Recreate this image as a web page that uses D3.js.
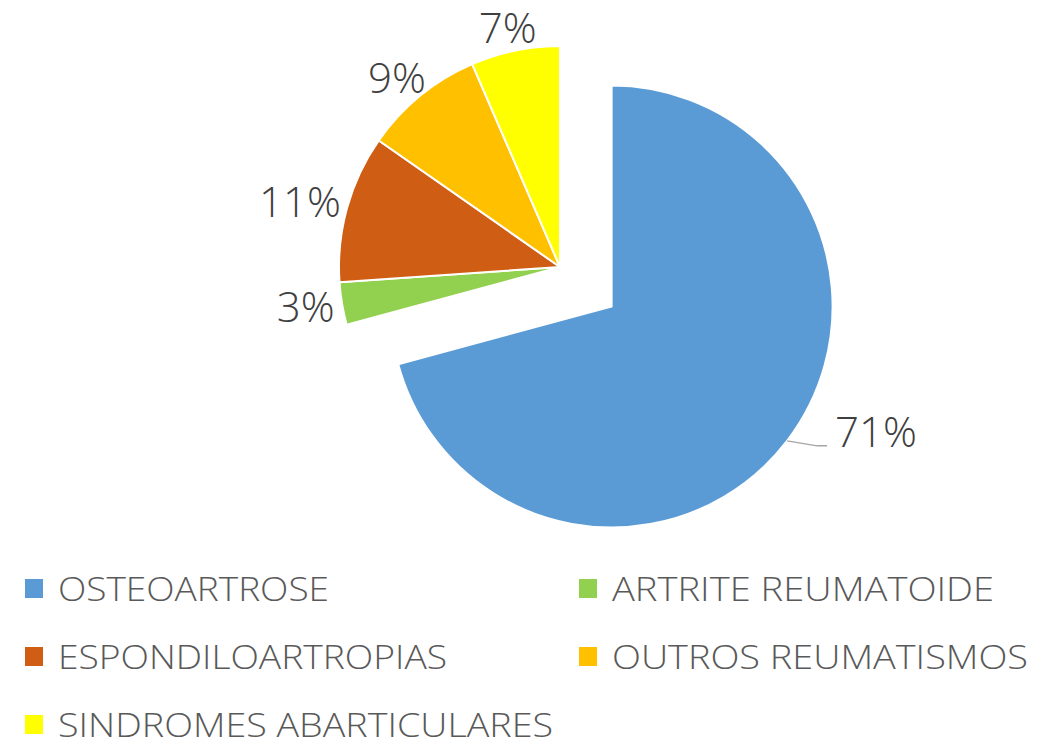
<!DOCTYPE html>
<html>
<head>
<meta charset="utf-8">
<script src="https://cdn.jsdelivr.net/npm/d3@7"></script>
<style>
    body { margin: 0; background: #fff; }
    text { font-family: "Open Sans", "DejaVu Sans", sans-serif; font-weight: 300; }
</style>
</head>
<body>
<script>
// categories and their share (%)
const categories = ["OSTEOARTROSE", "ARTRITE REUMATOIDE", "ESPONDILOARTROPIAS", "OUTROS REUMATISMOS", "SINDROMES ABARTICULARES"];
const values = [70.8, 3.1, 10.8, 8.8, 6.5];
const colors = ["#5B9BD5", "#92D050", "#CF5E14", "#FFC000", "#FFFF00"];
// legend text widths in the reference
const legendWidths = [271, 382, 389, 416, 495];

const width = 1059, height = 744;
const cx = 560, cy = 267, radius = 221;
const explode = 65;

const svg = d3.select("body").append("svg")
    .attr("width", width)
    .attr("height", height);

const data = categories.map((c, i) => ({name: c, value: values[i], color: colors[i]}));

const pie = d3.pie().sort(null).value(d => d.value);
const arcs = pie(data);

const arc = d3.arc().innerRadius(0).outerRadius(radius);

// offset of a slice along its middle angle
function offset(d, dist) {
    const a = (d.startAngle + d.endAngle) / 2;
    return [Math.sin(a) * dist, -Math.cos(a) * dist];
}

const g = svg.append("g").attr("transform", `translate(${cx},${cy})`);

g.selectAll("path")
    .data(arcs)
    .enter()
    .append("path")
    .attr("d", arc)
    .attr("transform", (d, i) => {
        const o = i === 0 ? offset(d, explode) : [0, 0];
        return `translate(${o[0]},${o[1]})`;
    })
    .attr("fill", d => d.data.color)
    .attr("stroke", "#fff")
    .attr("stroke-width", 2);

const fmt = d3.format(".0f");
const capH = 30;

// labels for the small slices, outside end: box pushed out from the rim
const lbl = g.selectAll("text.lbl")
    .data(arcs.slice(1))
    .enter()
    .append("text")
    .attr("class", "lbl")
    .attr("text-anchor", "middle")
    .attr("font-size", 42)
    .attr("fill", "#404040")
    .text(d => fmt(d.data.value) + "%");

lbl.each(function (d) {
    const w = this.getComputedTextLength();
    const a = (d.startAngle + d.endAngle) / 2;
    const p = offset(d, radius + 8);
    const x = p[0] + Math.sin(a) * w / 2;
    const y = p[1] - Math.cos(a) * capH / 2;
    d3.select(this).attr("x", x).attr("y", y + capH / 2);
});

// big slice label with leader line
const big = arcs[0];
const bo = offset(big, explode);
const edge = offset(big, radius);
const ex = edge[0] + bo[0], ey = edge[1] + bo[1];

g.append("path")
    .attr("d", `M${ex},${ey} L${ex + 30},${ey + 5} L${ex + 40},${ey + 5}`)
    .attr("fill", "none")
    .attr("stroke", "#A6A6A6")
    .attr("stroke-width", 1.5);

g.append("text")
    .attr("x", ex + 48)
    .attr("y", ey + 6)
    .attr("font-size", 42)
    .attr("fill", "#404040")
    .text(fmt(big.data.value) + "%");

// legend
const legend = svg.append("g");
const colX = [25, 579];
const rowY = [601, 669, 737];

const item = legend.selectAll("g")
    .data(data)
    .enter()
    .append("g")
    .attr("transform", (d, i) => `translate(${colX[i % 2]},${rowY[Math.floor(i / 2)]})`);

item.append("rect")
    .attr("x", 0)
    .attr("y", -22)
    .attr("width", 18)
    .attr("height", 19)
    .attr("fill", d => d.color);

item.append("text")
    .attr("x", 33)
    .attr("y", 0)
    .attr("font-size", 33)
    .attr("fill", "#595959")
    .attr("textLength", (d, i) => legendWidths[i])
    .attr("lengthAdjust", "spacingAndGlyphs")
    .text(d => d.name);
</script>
</body>
</html>
